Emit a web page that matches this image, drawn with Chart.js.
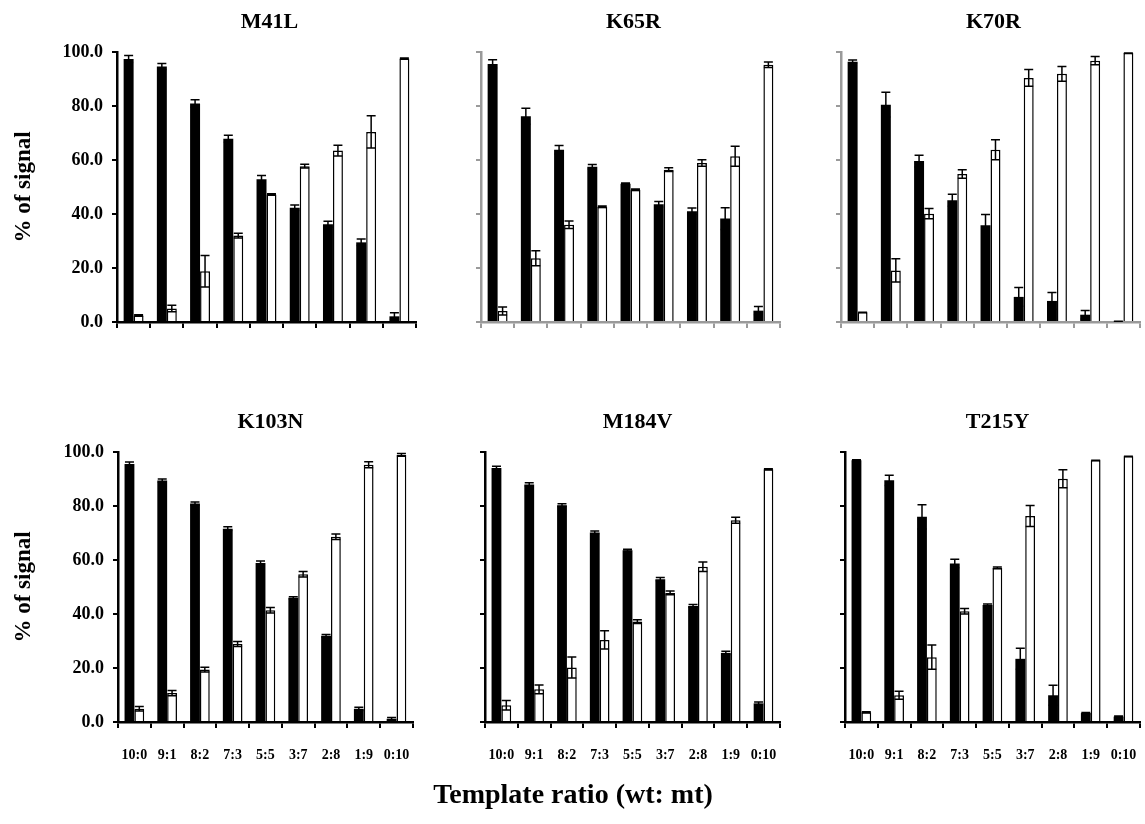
<!DOCTYPE html>
<html>
<head>
<meta charset="utf-8">
<script src="https://cdn.jsdelivr.net/npm/chart.js@4.4.1/dist/chart.umd.min.js"></script>
<style>
  body { margin: 0; background: #fff; }
  #wrap { position: relative; width: 1145px; height: 824px; overflow: hidden; font-family: "Liberation Serif", "Times New Roman", serif; font-weight: bold; color: #000; }
  canvas { position: absolute; }
  .ttl { position: absolute; width: 200px; text-align: center; font-size: 22px; line-height: 24px; }
  .ytl { position: absolute; width: 200px; height: 26px; line-height: 26px; text-align: center; font-size: 23px; transform: rotate(-90deg); }
  #xtl { position: absolute; left: 373px; top: 778px; width: 400px; text-align: center; font-size: 28px; line-height: 32px; }
</style>
</head>
<body>
<div id="wrap"></div>
<script>
// template ratios wt:mt
var categories = ["10:0", "9:1", "8:2", "7:3", "5:5", "3:7", "2:8", "1:9", "0:10"];
var panelNames = ["M41L", "K65R", "K70R", "K103N", "M184V", "T215Y"];

// % of signal, black = wt, white = mt, with error (+/-)
var m41lWt = [97.4, 94.6, 80.9, 67.9, 52.9, 42.3, 36.2, 29.5, 2.1];
var m41lWtErr = [1.3, 1.1, 1.4, 1.3, 1.4, 1.0, 1.1, 1.2, 1.3];
var m41lMt = [2.4, 5.0, 18.8, 32.0, 47.2, 57.7, 63.5, 70.4, 97.6];
var m41lMtErr = [0.3, 1.2, 5.8, 0.9, 0.3, 0.7, 2.0, 6.0, 0.2];

var k65rWt = [95.6, 76.2, 63.8, 57.5, 51.2, 43.6, 41.0, 38.3, 4.2];
var k65rWtErr = [1.5, 3.0, 1.6, 0.8, 0.3, 1.0, 1.2, 4.0, 1.5];
var k65rMt = [4.1, 23.6, 36.0, 42.7, 49.0, 56.4, 58.9, 61.4, 95.3];
var k65rMtErr = [1.5, 2.8, 1.4, 0.3, 0.3, 0.7, 1.2, 3.7, 1.0];

var k70rWt = [96.4, 80.5, 59.6, 45.1, 35.8, 9.3, 7.8, 2.7, 0.3];
var k70rWtErr = [0.6, 4.6, 2.2, 2.2, 4.0, 3.5, 3.1, 1.6, 0];
var k70rMt = [3.6, 19.1, 40.1, 54.8, 63.8, 90.4, 91.9, 96.8, 99.6];
var k70rMtErr = [0, 4.3, 1.9, 1.6, 3.7, 3.1, 2.7, 1.5, 0];

var k103nWt = [95.6, 89.4, 80.9, 71.6, 58.9, 46.0, 31.9, 4.9, 1.2];
var k103nWtErr = [0.7, 0.6, 0.6, 0.7, 0.7, 0.4, 0.5, 0.6, 0.5];
var k103nMt = [4.9, 10.7, 19.4, 28.9, 41.4, 54.7, 68.6, 95.3, 98.9];
var k103nMtErr = [0.8, 1.0, 0.9, 0.9, 1.0, 1.0, 1.0, 1.1, 0.5];

var m184vWt = [94.1, 88.0, 80.3, 70.2, 63.6, 52.9, 43.0, 25.6, 6.9];
var m184vWtErr = [0.6, 0.6, 0.5, 0.5, 0.4, 0.6, 0.5, 0.6, 0.5];
var m184vMt = [6.2, 12.1, 20.2, 30.4, 37.2, 47.8, 57.5, 74.7, 93.6];
var m184vMtErr = [1.8, 1.6, 3.9, 3.4, 0.7, 0.7, 1.8, 1.1, 0.2];

var t215yWt = [96.9, 89.5, 76.0, 58.7, 43.3, 23.4, 9.9, 3.3, 2.0];
var t215yWtErr = [0.2, 1.9, 4.5, 1.6, 0.4, 3.9, 3.7, 0.2, 0.2];
var t215yMt = [3.6, 9.9, 24.0, 41.0, 57.1, 76.3, 90.1, 96.9, 98.4];
var t215yMtErr = [0.2, 1.5, 4.5, 1.0, 0.3, 3.9, 3.3, 0, 0];

var yTicks = [0, 20, 40, 60, 80, 100];

var seriesWt = [m41lWt, k65rWt, k70rWt, k103nWt, m184vWt, t215yWt];
var seriesWtErr = [m41lWtErr, k65rWtErr, k70rWtErr, k103nWtErr, m184vWtErr, t215yWtErr];
var seriesMt = [m41lMt, k65rMt, k70rMt, k103nMt, m184vMt, t215yMt];
var seriesMtErr = [m41lMtErr, k65rMtErr, k70rMtErr, k103nMtErr, m184vMtErr, t215yMtErr];

// panel placement (plot area left/top in page px)
var panels = [
    { left: 117, top: 52, showY: true, showX: false, axis: "#000" },
    { left: 481, top: 52, showY: false, showX: false, axis: "#9a9a9a" },
    { left: 841, top: 52, showY: false, showX: false, axis: "#9a9a9a" },
    { left: 118, top: 452, showY: true, showX: true, axis: "#000" },
    { left: 485, top: 452, showY: false, showX: true, axis: "#000" },
    { left: 845, top: 452, showY: false, showX: true, axis: "#000" }
];
var plotW = 299, plotH = 270;

var errorBars = {
    id: "errorBars",
    afterDatasetsDraw: function (chart) {
        var ctx = chart.ctx, ys = chart.scales.y;
        chart.data.datasets.forEach(function (ds, i) {
            chart.getDatasetMeta(i).data.forEach(function (bar, j) {
                var v = ds.data[j], e = ds.errors[j];
                var t = ys.getPixelForValue(v + e), b = ys.getPixelForValue(Math.max(0, v - e));
                ctx.save();
                ctx.strokeStyle = "#000";
                ctx.lineWidth = 1.5;
                ctx.beginPath();
                ctx.moveTo(bar.x, t); ctx.lineTo(bar.x, b);
                ctx.moveTo(bar.x - 4.5, t); ctx.lineTo(bar.x + 4.5, t);
                ctx.moveTo(bar.x - 4.5, b); ctx.lineTo(bar.x + 4.5, b);
                ctx.stroke();
                ctx.restore();
            });
        });
    }
};

var wrap = document.getElementById("wrap");

panels.forEach(function (p, i) {
    var yW = p.showY ? p.left : 20;
    var xH = p.showX ? 50 : 10;
    var padB = 20;
    var cv = document.createElement("canvas");
    cv.width = yW + plotW + 12;
    cv.height = 20 + plotH + xH + padB;
    cv.style.left = (p.left - yW) + "px";
    cv.style.top = (p.top - 20) + "px";
    wrap.appendChild(cv);

    var t = document.createElement("div");
    t.className = "ttl";
    t.textContent = panelNames[i];
    t.style.left = (p.left + plotW / 2 + 3 - 100) + "px";
    t.style.top = (p.top - 43) + "px";
    wrap.appendChild(t);

    if (p.showY) {
        var yt = document.createElement("div");
        yt.className = "ytl";
        yt.textContent = "% of signal";
        yt.style.left = (23 - 100) + "px";
        yt.style.top = (p.top + plotH / 2 - 13) + "px";
        wrap.appendChild(yt);
    }

    new Chart(cv, {
        type: "bar",
        data: {
            labels: categories,
            datasets: [{
                data: seriesWt[i],
                errors: seriesWtErr[i],
                backgroundColor: "#000",
                borderWidth: 0
            }, {
                data: seriesMt[i],
                errors: seriesMtErr[i],
                backgroundColor: "#fff",
                borderColor: "#000",
                borderWidth: 1.5
            }]
        },
        options: {
            responsive: false,
            animation: false,
            devicePixelRatio: 1,
            layout: { padding: { top: 20, right: 12, left: 0, bottom: padB } },
            datasets: { bar: { barPercentage: 1.0, categoryPercentage: 0.6 } },
            plugins: { legend: { display: false }, tooltip: { enabled: false } },
            scales: {
                x: {
                    offset: true,
                    grid: { drawOnChartArea: false, drawTicks: true, tickLength: 6, color: p.axis, lineWidth: 2, offset: true },
                    border: { color: p.axis, width: 2.5 },
                    ticks: {
                        display: p.showX, color: "#000", padding: 19, maxRotation: 0, autoSkip: false,
                        font: { family: "'Liberation Serif', serif", weight: "bold", size: 14 }
                    },
                    afterFit: function (s) { s.height = xH; }
                },
                y: {
                    min: 0, max: 100,
                    afterBuildTicks: function (s) { s.ticks = yTicks.map(function (v) { return { value: v }; }); },
                    grid: { drawOnChartArea: false, drawTicks: true, tickLength: 5, color: p.axis, lineWidth: 2 },
                    border: { color: p.axis, width: 2.5 },
                    ticks: {
                        display: p.showY, color: "#000", padding: 9,
                        callback: function (v) { return Number(v).toFixed(1); },
                        font: { family: "'Liberation Serif', serif", weight: "bold", size: 18 }
                    },
                    afterFit: function (s) { s.width = yW; }
                }
            }
        },
        plugins: [errorBars]
    });
});

var xt = document.createElement("div");
xt.id = "xtl";
xt.textContent = "Template ratio (wt: mt)";
wrap.appendChild(xt);
</script>
</body>
</html>
